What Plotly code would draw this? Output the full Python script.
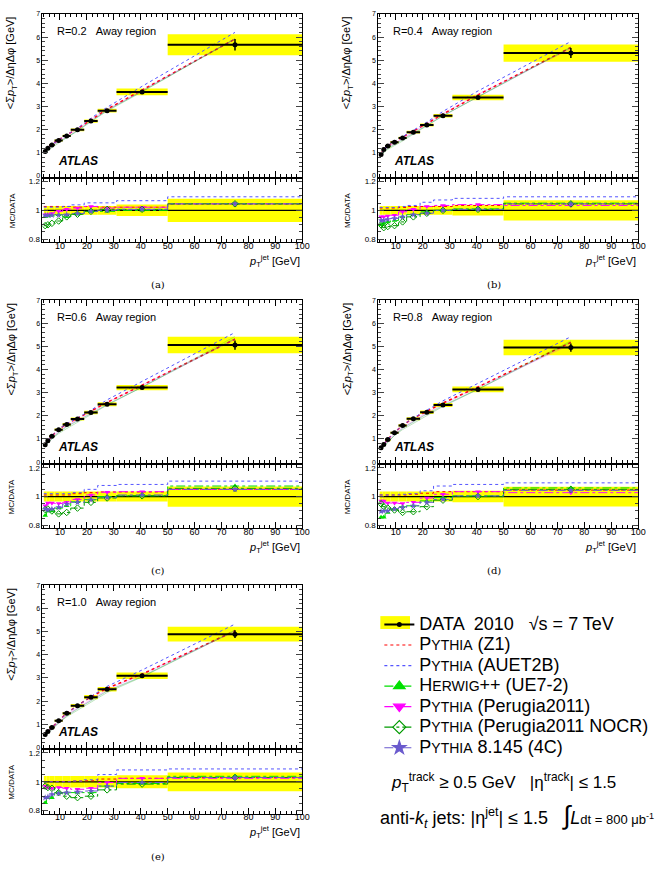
import plotly.graph_objects as go

W, H = 661, 883

# ---------------- data ----------------
edges = [4, 5, 6, 8, 11, 14, 19, 24, 31, 50, 100]
centers = [4.5, 5.5, 7, 9.5, 12.5, 16.5, 21.5, 27.5, 40.5, 75]
labels = ["R=0.2", "R=0.4", "R=0.6", "R=0.8", "R=1.0"]
captions = ["(a)", "(b)", "(c)", "(d)", "(e)"]

# DATA  <sum pT>/deta dphi [GeV]
data_02 = [1.06, 1.20, 1.34, 1.53, 1.73, 1.99, 2.37, 2.82, 3.63, 5.67]
data_04 = [0.93, 1.14, 1.29, 1.46, 1.64, 1.89, 2.20, 2.60, 3.39, 5.31]
data_06 = [0.75, 0.92, 1.12, 1.40, 1.63, 1.86, 2.14, 2.50, 3.22, 5.06]
data_08 = [0.62, 0.76, 0.98, 1.27, 1.58, 1.87, 2.16, 2.47, 3.14, 4.95]
data_10 = [0.56, 0.68, 0.86, 1.15, 1.47, 1.80, 2.17, 2.51, 3.09, 4.89]

# statistical errors (abs)
stat_02 = [0.02, 0.02, 0.02, 0.02, 0.02, 0.02, 0.02, 0.03, 0.05, 0.25]
stat_04 = [0.02, 0.02, 0.02, 0.02, 0.02, 0.02, 0.02, 0.03, 0.05, 0.22]
stat_06 = [0.02, 0.02, 0.02, 0.02, 0.02, 0.02, 0.02, 0.03, 0.05, 0.20]
stat_08 = [0.02, 0.02, 0.02, 0.02, 0.02, 0.02, 0.02, 0.03, 0.05, 0.18]
stat_10 = [0.02, 0.02, 0.02, 0.02, 0.02, 0.02, 0.02, 0.03, 0.05, 0.17]

# relative systematic uncertainty
syst_02 = [0.03, 0.03, 0.03, 0.03, 0.03, 0.03, 0.03, 0.03, 0.040, 0.080]
syst_04 = [0.03, 0.03, 0.03, 0.03, 0.03, 0.03, 0.03, 0.03, 0.035, 0.070]
syst_06 = [0.035, 0.035, 0.035, 0.035, 0.035, 0.035, 0.035, 0.035, 0.035, 0.070]
syst_08 = [0.035, 0.035, 0.035, 0.035, 0.035, 0.035, 0.035, 0.035, 0.040, 0.068]
syst_10 = [0.04, 0.04, 0.04, 0.04, 0.04, 0.04, 0.04, 0.04, 0.045, 0.065]

# MC / DATA ratios
z1_02 = [1.027, 1.027, 1.027, 1.027, 1.027, 1.022, 1.027, 1.022, 1.022, 1.043]
au_02 = [1.022, 1.022, 1.022, 1.022, 1.027, 1.038, 1.052, 1.052, 1.067, 1.094]
hw_02 = [0.955, 0.960, 0.966, 0.970, 0.955, 0.973, 0.993, 0.993, 1.000, 1.045]
pe_02 = [0.970, 0.970, 0.978, 0.993, 1.007, 1.016, 1.027, 1.016, 1.022, 1.045]
nc_02 = [0.894, 0.900, 0.910, 0.926, 0.955, 0.973, 0.993, 1.007, 1.007, 1.045]
c4_02 = [0.966, 0.966, 0.966, 0.966, 0.970, 0.978, 0.993, 1.000, 1.007, 1.045]

z1_04 = [1.016, 1.016, 1.016, 1.016, 1.020, 1.027, 1.027, 1.027, 1.034, 1.045]
au_04 = [1.020, 1.020, 1.020, 1.020, 1.027, 1.034, 1.056, 1.072, 1.083, 1.094]
hw_04 = [0.900, 0.910, 0.920, 0.930, 0.955, 0.970, 0.990, 1.000, 1.010, 1.050]
pe_04 = [0.955, 0.955, 0.960, 0.966, 0.990, 1.007, 1.027, 1.034, 1.040, 1.034]
nc_04 = [0.900, 0.880, 0.888, 0.894, 0.920, 0.955, 0.980, 1.000, 1.007, 1.045]
c4_04 = [0.930, 0.930, 0.937, 0.944, 0.955, 0.970, 0.980, 1.000, 1.007, 1.045]

z1_06 = [1.011, 1.011, 1.011, 1.011, 1.011, 1.020, 1.027, 1.032, 1.032, 1.050]
au_06 = [1.020, 1.020, 1.020, 1.020, 1.020, 1.027, 1.050, 1.077, 1.084, 1.107]
hw_06 = [0.868, 0.900, 0.900, 0.920, 0.936, 0.964, 0.980, 1.000, 1.005, 1.073]
pe_06 = [0.936, 0.955, 0.955, 0.952, 0.960, 0.980, 1.011, 1.030, 1.034, 1.050]
nc_06 = [0.910, 0.914, 0.900, 0.880, 0.890, 0.920, 0.960, 0.990, 1.005, 1.057]
c4_06 = [0.914, 0.907, 0.914, 0.925, 0.948, 0.960, 0.977, 0.993, 1.011, 1.050]

z1_08 = [1.011, 1.011, 1.011, 1.011, 1.011, 1.016, 1.023, 1.034, 1.034, 1.045]
au_08 = [1.011, 1.011, 1.011, 1.011, 1.016, 1.020, 1.040, 1.073, 1.084, 1.095]
hw_08 = [0.857, 0.857, 0.890, 0.914, 0.930, 0.936, 0.970, 0.993, 1.005, 1.060]
pe_08 = [0.970, 0.970, 0.955, 0.955, 0.952, 0.960, 0.990, 1.016, 1.034, 1.027]
nc_08 = [0.950, 0.930, 0.920, 0.907, 0.890, 0.895, 0.930, 0.975, 1.000, 1.050]
c4_08 = [0.898, 0.900, 0.900, 0.914, 0.925, 0.936, 0.960, 0.980, 1.005, 1.043]

z1_10 = [1.002, 1.002, 1.002, 1.002, 1.002, 1.005, 1.007, 1.019, 1.024, 1.030]
au_10 = [1.000, 1.000, 1.000, 1.000, 1.000, 1.005, 1.014, 1.050, 1.082, 1.089]
hw_10 = [0.854, 0.890, 0.890, 0.925, 0.925, 0.925, 0.925, 0.970, 0.988, 1.038]
pe_10 = [0.970, 0.960, 0.955, 0.960, 0.955, 0.948, 0.955, 0.995, 1.024, 1.024]
nc_10 = [0.970, 0.960, 0.955, 0.925, 0.900, 0.890, 0.900, 0.944, 0.984, 1.030]
c4_10 = [0.890, 0.894, 0.913, 0.920, 0.925, 0.930, 0.936, 0.970, 0.995, 1.030]

panels = [
    (data_02, stat_02, syst_02, [z1_02, au_02, hw_02, pe_02, nc_02, c4_02]),
    (data_04, stat_04, syst_04, [z1_04, au_04, hw_04, pe_04, nc_04, c4_04]),
    (data_06, stat_06, syst_06, [z1_06, au_06, hw_06, pe_06, nc_06, c4_06]),
    (data_08, stat_08, syst_08, [z1_08, au_08, hw_08, pe_08, nc_08, c4_08]),
    (data_10, stat_10, syst_10, [z1_10, au_10, hw_10, pe_10, nc_10, c4_10]),
]

BIG = '<span style="font-size:18px">'
SC = '<span style="font-size:14px">'
mc_names = [
    f'{BIG}P{SC}YTHIA</span> (Z1)</span>',
    f'{BIG}P{SC}YTHIA</span> (AUET2B)</span>',
    f'{BIG}H{SC}ERWIG</span>++ (UE7-2)</span>',
    f'{BIG}P{SC}YTHIA</span> (Perugia2011)</span>',
    f'{BIG}P{SC}YTHIA</span> (Perugia2011 NOCR)</span>',
    f'{BIG}P{SC}YTHIA</span> 8.145 (4C)</span>',
]
data_name = f'{BIG}DATA  2010   √s = 7 TeV</span>'
mc_colors = ["#ff0000", "#5555ff", "#00e000", "#ff00ff", "#009a00", "#6a5acd"]
mc_dash = ["dot", "dot", "dashdot", "dashdot", "dashdot", "dashdot"]
mc_symbols = [None, None, "triangle-up", "triangle-down", "diamond-open", "star"]

FONT = "Liberation Sans"

# ---------------- geometry (pixels) ----------------
col_x = [43, 383]
row_y = [10, 298.5, 586]
PW = 263
MAIN_H = 164
R_TOP = 166
R_BOT = 230


def px(x):
    return x / W


def py(y):
    return 1 - y / H


halfw = [(edges[i + 1] - edges[i]) / 2 for i in range(len(centers))]
widths = [edges[i + 1] - edges[i] for i in range(len(centers))]

fig = go.Figure()
layout = dict(
    width=W, height=H, margin=dict(l=0, r=0, t=0, b=0),
    paper_bgcolor="white", plot_bgcolor="white",
    barmode="overlay", showlegend=True,
    font=dict(family=FONT, color="black"),
)
annotations = []
shapes = []


def axname(n):
    return "" if n == 1 else str(n)


for i, (dat, st, sy, ratios) in enumerate(panels):
    x0 = col_x[i % 2]
    y0 = row_y[i // 2]
    nm = 2 * i + 1
    nr = 2 * i + 2
    xm, ymn = "x" + axname(nm), "y" + axname(nm)
    xr, yrn = "x" + axname(nr), "y" + axname(nr)

    common_x = dict(
        range=[3.5, 100], showline=True, linecolor="black", linewidth=1,
        mirror="allticks", ticks="inside", ticklen=6, tickcolor="black",
        tick0=0, dtick=10, showgrid=False, zeroline=False,
        minor=dict(ticks="inside", ticklen=3, dtick=2, tick0=0, tickcolor="black", showgrid=False),
        domain=[px(x0), px(x0 + PW)],
    )
    layout["xaxis" + axname(nm)] = dict(common_x, anchor=ymn, showticklabels=False)
    layout["xaxis" + axname(nr)] = dict(common_x, anchor=yrn, showticklabels=True,
                                         ticklabelstandoff=-5,
                                         tickfont=dict(size=9, family=FONT))
    layout["yaxis" + axname(nm)] = dict(
        range=[-0.03, 7], domain=[py(y0 + MAIN_H), py(y0)], anchor=xm,
        showline=True, linecolor="black", linewidth=1, mirror="allticks",
        ticks="inside", ticklen=6, tick0=0, dtick=1, showgrid=False, zeroline=False,
        minor=dict(ticks="inside", ticklen=3, dtick=0.2, tick0=0, showgrid=False),
        tickfont=dict(size=7, family=FONT),
    )
    layout["yaxis" + axname(nr)] = dict(
        range=[0.78, 1.22], domain=[py(y0 + R_BOT), py(y0 + R_TOP)], anchor=xr,
        showline=True, linecolor="black", linewidth=1, mirror="allticks",
        ticks="inside", ticklen=6, tick0=0, dtick=0.2, showgrid=False, zeroline=False,
        minor=dict(ticks="inside", ticklen=3, dtick=0.05, tick0=0, showgrid=False),
        tickfont=dict(size=8, family=FONT),
    )

    # ---- main panel ----
    fig.add_trace(go.Bar(
        x=centers, base=[d - d * s for d, s in zip(dat, sy)],
        y=[2 * d * s for d, s in zip(dat, sy)], width=widths,
        marker=dict(color="#ffff00", line=dict(width=0)),
        xaxis=xm, yaxis=ymn, showlegend=False, hoverinfo="skip"))
    for k, r in enumerate(ratios):
        if k == 0:
            ln = dict(color=mc_colors[k], dash="dot", width=1.5)
        elif k == 1:
            ln = dict(color=mc_colors[k], dash="dot", width=1.0)
        else:
            ln = dict(color=mc_colors[k], dash="solid", width=0.5)
        fig.add_trace(go.Scatter(
            x=centers, y=[d * v for d, v in zip(dat, r)], mode="lines", line=ln,
            opacity=1 if k < 2 else 0.5,
            xaxis=xm, yaxis=ymn, showlegend=False, hoverinfo="skip"))
    fig.add_trace(go.Scatter(
        x=centers, y=dat, mode="markers",
        marker=dict(color="black", size=5, symbol="circle"),
        error_x=dict(type="data", array=halfw, color="black", thickness=2, width=0),
        error_y=dict(type="data", array=st, color="black", thickness=1.5, width=0),
        xaxis=xm, yaxis=ymn, showlegend=False))

    # ---- ratio panel ----
    fig.add_trace(go.Bar(
        x=centers, base=[1 - s for s in sy], y=[2 * s for s in sy], width=widths,
        marker=dict(color="#ffff00", line=dict(width=0)),
        xaxis=xr, yaxis=yrn, showlegend=False, hoverinfo="skip"))
    fig.add_trace(go.Scatter(
        x=[edges[0], edges[-1]], y=[1, 1], mode="lines",
        line=dict(color="black", width=1.3),
        xaxis=xr, yaxis=yrn, showlegend=False, hoverinfo="skip"))
    for k, r in enumerate(ratios):
        fig.add_trace(go.Scatter(
            x=edges, y=list(r) + [r[-1]], mode="lines", line_shape="hv",
            line=dict(color=mc_colors[k], dash="dot" if k < 2 else "dashdot", width=1.0),
            xaxis=xr, yaxis=yrn, showlegend=False, hoverinfo="skip"))
    for k, r in enumerate(ratios):
        if mc_symbols[k] is None:
            continue
        fig.add_trace(go.Scatter(
            x=centers, y=r, mode="markers",
            marker=dict(color=mc_colors[k], size=5, symbol=mc_symbols[k],
                        line=dict(width=1.0 if "open" in mc_symbols[k] else 0, color=mc_colors[k])),
            xaxis=xr, yaxis=yrn, showlegend=False, hoverinfo="skip"))

    # ---- texts ----
    annotations.append(dict(
        x=px(x0 + 13), y=py(y0 + 17), xref="paper", yref="paper",
        xanchor="left", yanchor="middle", showarrow=False,
        text=f"{labels[i]}\u00a0\u00a0\u00a0Away region", font=dict(size=11, family=FONT)))
    annotations.append(dict(
        x=px(x0 + 14), y=py(y0 + 148), xref="paper", yref="paper",
        xanchor="left", yanchor="middle", showarrow=False,
        text="<b><i>ATLAS</i></b>", font=dict(size=12, family=FONT)))
    annotations.append(dict(
        x=px(x0 - 31), y=py(y0), xref="paper", yref="paper",
        xanchor="center", yanchor="top", showarrow=False, textangle=-90,
        text="&lt;Σ<i>p</i><sub>T</sub>&gt;/ΔηΔφ [GeV]", font=dict(size=11, family=FONT)))
    annotations.append(dict(
        x=px(x0 - 31), y=py(y0 + (R_TOP + R_BOT) / 2), xref="paper", yref="paper",
        xanchor="center", yanchor="middle", showarrow=False, textangle=-90,
        text="MC/DATA", font=dict(size=8, family=FONT)))
    annotations.append(dict(
        x=px(x0 + PW), y=py(y0 + 249), xref="paper", yref="paper",
        xanchor="right", yanchor="middle", showarrow=False,
        text="<i>p</i><sub>T</sub><sup>jet</sup> [GeV]", font=dict(size=11, family=FONT)))
    annotations.append(dict(
        x=px(x0 + 117), y=py(y0 + 273), xref="paper", yref="paper",
        xanchor="center", yanchor="middle", showarrow=False,
        text=captions[i], font=dict(size=10, family="DejaVu Serif")))

# ---------------- legend ----------------
fig.add_trace(go.Scatter(
    x=[None], y=[None], mode="lines+markers", name=data_name,
    line=dict(color="black", width=2), marker=dict(color="black", size=5),
    xaxis="x", yaxis="y", showlegend=True))
for k in range(6):
    mode = "lines" if mc_symbols[k] is None else "lines+markers"
    mk = dict(color=mc_colors[k], size=10, symbol=mc_symbols[k] or "circle",
              line=dict(width=1.2, color=mc_colors[k]))
    fig.add_trace(go.Scatter(
        x=[None], y=[None], mode=mode, name=mc_names[k],
        line=dict(color=mc_colors[k], dash=mc_dash[k], width=1.2), marker=mk,
        xaxis="x", yaxis="y", showlegend=True))

layout["legend"] = dict(
    x=px(384), y=py(610), xanchor="left", yanchor="top",
    font=dict(size=13.5, family=FONT), bgcolor="rgba(0,0,0,0)",
    itemwidth=30, tracegroupgap=0, traceorder="normal",
)
shapes.append(dict(type="rect", xref="paper", yref="paper",
                   x0=px(385), x1=px(415), y0=py(630), y1=py(617),
                   fillcolor="#ffff00", line=dict(width=0), layer="below"))

annotations.append(dict(
    x=px(394), y=py(785), xref="paper", yref="paper", xanchor="left", yanchor="middle",
    showarrow=False, font=dict(size=17, family=FONT),
    text="<i>p</i><sub>T</sub><sup>track</sup> ≥ 0.5 GeV\u00a0\u00a0\u00a0|η<sup>track</sup>| ≤ 1.5"))
annotations.append(dict(
    x=px(383), y=py(818), xref="paper", yref="paper", xanchor="left", yanchor="middle",
    showarrow=False, font=dict(size=18, family=FONT),
    text=("anti-<i>k</i><sub><i>t</i></sub> jets: |η<sup>jet</sup>| ≤ 1.5\u00a0\u00a0\u00a0"
          "<span style=\"font-size:26px\">∫</span><i>L</i>"
          "<span style=\"font-size:13px\">dt = 800 μb<sup>-1</sup></span>")))

layout["annotations"] = annotations
layout["shapes"] = shapes
fig.update_layout(**layout)

fig.write_html("out.html")
